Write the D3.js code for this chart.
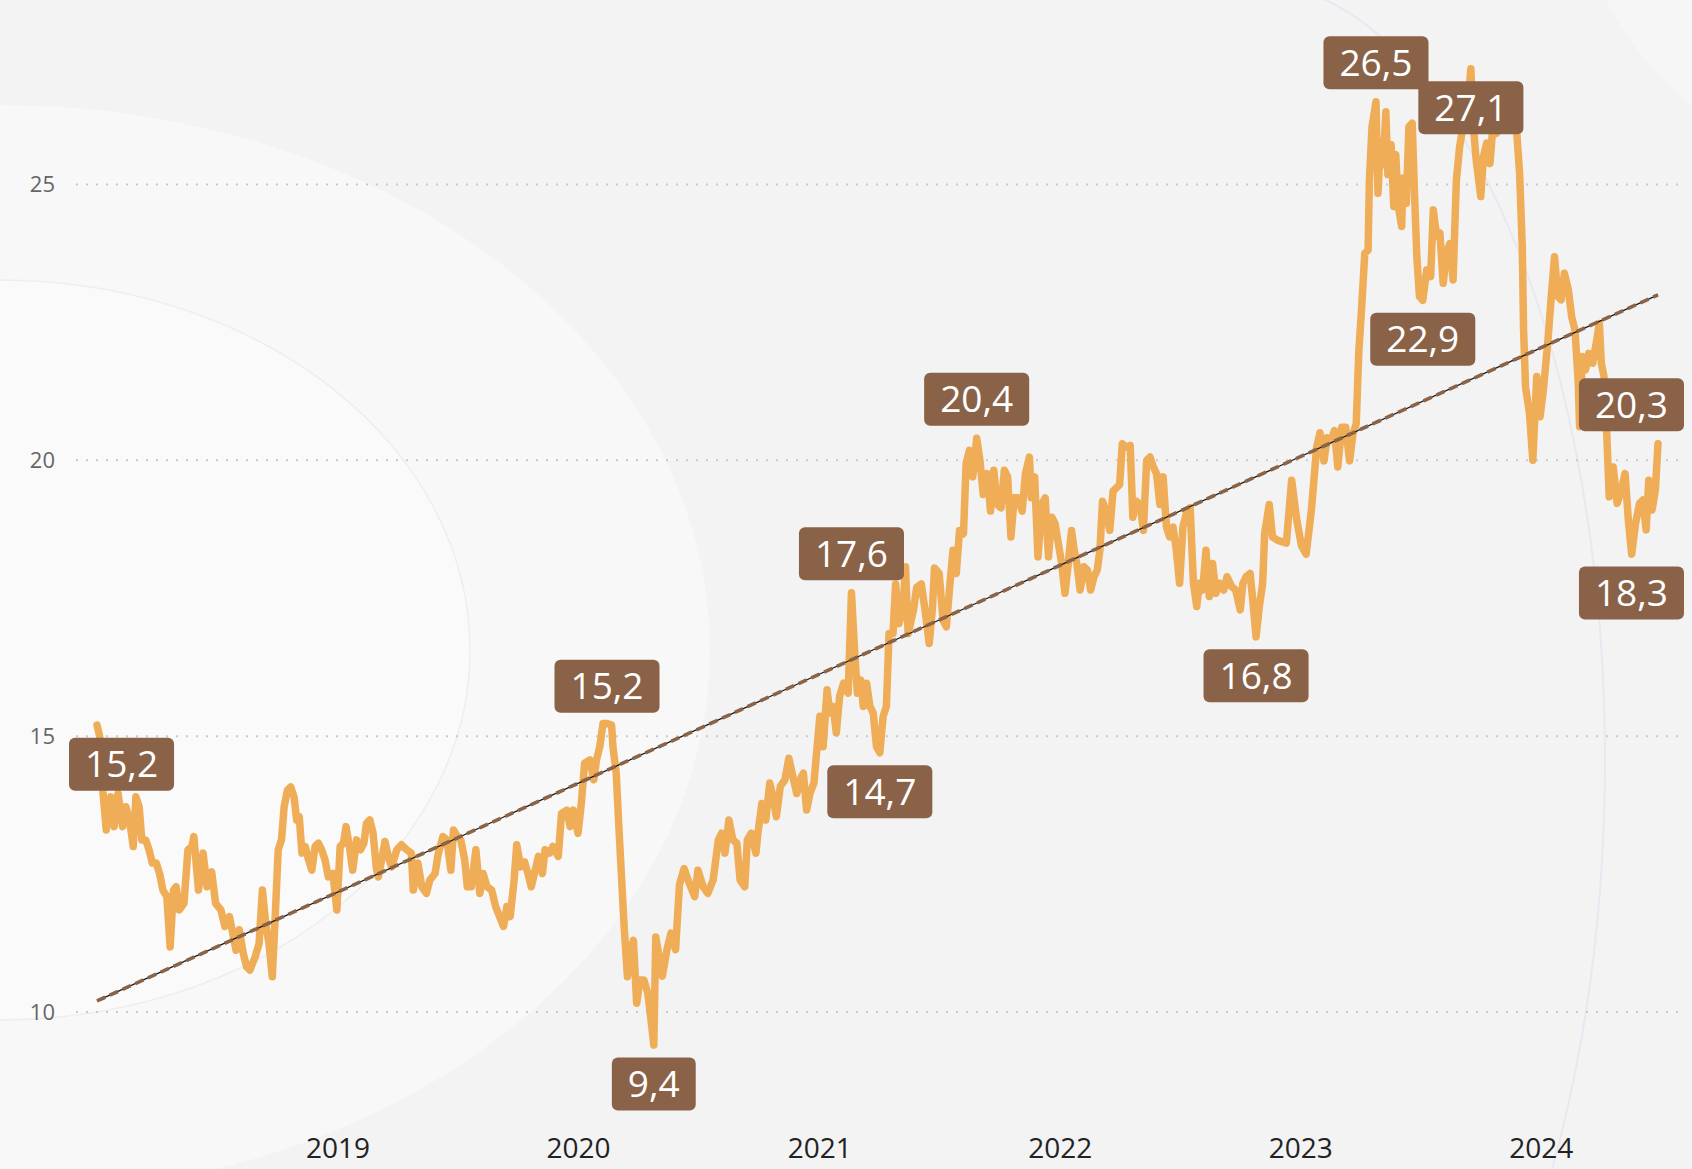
<!DOCTYPE html>
<html><head><meta charset="utf-8">
<script src="https://cdn.jsdelivr.net/npm/d3@7"></script>
<style>html,body{margin:0;padding:0;background:#f4f4f4;} svg{display:block;}</style>
</head><body><svg id="chart" width="1692" height="1169"></svg>
<script>
// ---------- DATA ----------
const series2018 = [["2018-01-01",15.2],["2018-01-05",15.0],["2018-01-10",14.0],["2018-01-15",13.3],["2018-01-22",13.9],["2018-01-27",13.36],["2018-02-02",13.96],["2018-02-09",13.36],["2018-02-14",13.72],["2018-02-20",13.42],["2018-02-25",13.0],["2018-03-01",13.9],["2018-03-06",13.72],["2018-03-10",13.12],["2018-03-16",13.12],["2018-03-21",12.94],["2018-03-26",12.7],["2018-04-01",12.7],["2018-04-06",12.51],["2018-04-11",12.21],["2018-04-17",12.09],["2018-04-22",11.18],["2018-04-27",12.21],["2018-05-01",12.27],["2018-05-06",11.85],["2018-05-13",11.97],["2018-05-19",12.94],["2018-05-25",13.0],["2018-05-28",13.18],["2018-06-04",12.21],["2018-06-11",12.88],["2018-06-17",12.27],["2018-06-24",12.54],["2018-06-30",11.97],["2018-07-08",11.85],["2018-07-14",11.55],["2018-07-21",11.73],["2018-07-26",11.43],["2018-07-31",11.12],["2018-08-05",11.49],["2018-08-11",11.06],["2018-08-16",10.82],["2018-08-21",10.76],["2018-08-29",11.0],["2018-09-04",11.24],["2018-09-09",12.21],["2018-09-14",11.61],["2018-09-19",11.24],["2018-09-24",10.64],["2018-09-28",11.61],["2018-10-03",12.94],["2018-10-08",13.12],["2018-10-12",13.72],["2018-10-17",14.02],["2018-10-22",14.08],["2018-10-27",13.9],["2018-10-31",13.48],["2018-11-04",13.54],["2018-11-08",12.88],["2018-11-13",13.0],["2018-11-18",12.76],["2018-11-23",12.57],["2018-11-28",13.0],["2018-12-03",13.06],["2018-12-08",12.94],["2018-12-13",12.76],["2018-12-18",12.45],["2018-12-25",12.51],["2018-12-31",11.85]];
const series2019 = [["2019-01-05",13.0],["2019-01-10",13.06],["2019-01-14",13.36],["2019-01-19",13.0],["2019-01-24",12.57],["2019-01-30",13.12],["2019-02-05",12.94],["2019-02-10",13.06],["2019-02-14",13.42],["2019-02-19",13.48],["2019-02-24",13.24],["2019-03-01",12.6],["2019-03-04",12.45],["2019-03-09",12.76],["2019-03-14",13.09],["2019-03-19",12.82],["2019-03-24",12.63],["2019-04-01",12.94],["2019-04-08",13.03],["2019-04-16",12.94],["2019-04-23",12.88],["2019-04-26",12.21],["2019-05-03",12.7],["2019-05-09",12.27],["2019-05-16",12.15],["2019-05-21",12.39],["2019-05-29",12.51],["2019-06-03",12.88],["2019-06-10",13.18],["2019-06-16",13.12],["2019-06-22",12.57],["2019-06-26",13.3],["2019-07-02",13.18],["2019-07-07",13.12],["2019-07-13",12.76],["2019-07-17",12.27],["2019-07-23",12.27],["2019-07-30",12.94],["2019-08-05",12.15],["2019-08-10",12.51],["2019-08-16",12.27],["2019-08-23",12.21],["2019-08-29",11.91],["2019-09-04",11.73],["2019-09-10",11.55],["2019-09-15",11.91],["2019-09-20",11.73],["2019-09-26",12.39],["2019-09-30",13.03],["2019-10-06",12.63],["2019-10-12",12.72],["2019-10-17",12.51],["2019-10-22",12.27],["2019-10-28",12.57],["2019-11-02",12.82],["2019-11-08",12.51],["2019-11-12",12.94],["2019-11-19",12.88],["2019-11-24",13.0],["2019-12-02",12.82],["2019-12-07",13.6],["2019-12-15",13.66],["2019-12-20",13.36],["2019-12-25",13.66]];
const series2020 = [["2020-01-01",13.24],["2020-01-06",13.78],["2020-01-11",14.51],["2020-01-19",14.57],["2020-01-25",14.21],["2020-01-29",14.57],["2020-02-03",14.81],["2020-02-08",15.23],["2020-02-14",15.23],["2020-02-21",15.2],["2020-02-23",14.81],["2020-02-28",14.33],["2020-03-03",13.36],["2020-03-07",12.45],["2020-03-11",11.55],["2020-03-16",10.64],["2020-03-20",11.06],["2020-03-25",11.3],["2020-03-30",10.16],["2020-04-04",10.58],["2020-04-10",10.58],["2020-04-16",10.34],["2020-04-22",9.73],["2020-04-25",9.4],["2020-04-28",11.36],["2020-05-08",10.65],["2020-05-15",11.13],["2020-05-21",11.43],["2020-05-28",11.13],["2020-06-03",12.31],["2020-06-10",12.6],["2020-06-16",12.39],["2020-06-26",12.09],["2020-07-01",12.57],["2020-07-09",12.27],["2020-07-16",12.15],["2020-07-24",12.39],["2020-08-01",13.12],["2020-08-06",13.24],["2020-08-11",12.88],["2020-08-17",13.48],["2020-08-23",13.12],["2020-08-29",13.06],["2020-09-03",12.39],["2020-09-10",12.27],["2020-09-14",13.12],["2020-09-20",13.24],["2020-09-27",12.88],["2020-09-30",13.24],["2020-10-06",13.78],["2020-10-12",13.48],["2020-10-18",14.15],["2020-10-23",13.9],["2020-10-28",13.54],["2020-11-03",14.09],["2020-11-10",14.21],["2020-11-16",14.6],["2020-11-22",14.27],["2020-11-28",13.96],["2020-12-03",14.21],["2020-12-08",14.33],["2020-12-13",13.66],["2020-12-18",13.96],["2020-12-24",14.15],["2020-12-28",14.69]];
const series2021 = [["2021-01-02",15.36],["2021-01-07",14.81],["2021-01-13",15.84],["2021-01-17",15.42],["2021-01-22",15.54],["2021-01-27",15.06],["2021-02-01",15.72],["2021-02-07",15.96],["2021-02-14",15.78],["2021-02-19",17.6],["2021-02-24",16.5],["2021-02-28",15.78],["2021-03-05",16.02],["2021-03-09",15.54],["2021-03-14",15.96],["2021-03-19",15.54],["2021-03-24",15.42],["2021-03-29",14.81],["2021-04-03",14.7],["2021-04-08",15.36],["2021-04-13",15.54],["2021-04-17",16.86],["2021-04-23",16.86],["2021-04-27",17.76],["2021-05-02",17.04],["2021-05-08",17.28],["2021-05-12",18.07],["2021-05-16",16.86],["2021-05-24",17.28],["2021-05-29",17.7],["2021-06-05",17.76],["2021-06-10",17.34],["2021-06-17",16.68],["2021-06-22",17.34],["2021-06-25",18.05],["2021-07-02",17.95],["2021-07-08",17.1],["2021-07-13",16.98],["2021-07-18",17.7],["2021-07-23",18.37],["2021-07-28",17.95],["2021-08-02",18.73],["2021-08-08",18.67],["2021-08-12",19.94],["2021-08-17",20.18],["2021-08-22",19.7],["2021-08-28",20.4],["2021-09-02",20.0],["2021-09-07",19.38],["2021-09-13",19.76],["2021-09-18",19.08],["2021-09-23",19.82],["2021-09-28",19.2],["2021-10-04",19.14],["2021-10-09",19.82],["2021-10-14",19.7],["2021-10-19",18.61],["2021-10-24",19.32],["2021-10-30",19.32],["2021-11-05",19.08],["2021-11-10",19.76],["2021-11-16",20.06],["2021-11-19",19.32],["2021-11-24",19.7],["2021-11-29",18.25],["2021-12-05",19.2],["2021-12-10",19.32],["2021-12-15",18.25],["2021-12-20",18.97],["2021-12-25",18.85],["2021-12-30",18.49]];
const series2022 = [["2022-01-04",18.13],["2022-01-09",17.59],["2022-01-14",18.13],["2022-01-19",18.73],["2022-01-23",18.37],["2022-01-27",18.13],["2022-02-01",17.65],["2022-02-07",18.07],["2022-02-12",18.01],["2022-02-17",17.65],["2022-02-22",17.89],["2022-02-27",18.01],["2022-03-03",18.37],["2022-03-07",19.26],["2022-03-12",19.08],["2022-03-18",18.73],["2022-03-23",19.44],["2022-03-28",19.5],["2022-04-02",19.56],["2022-04-06",20.3],["2022-04-12",20.24],["2022-04-18",20.27],["2022-04-22",18.97],["2022-04-27",19.26],["2022-05-03",19.2],["2022-05-08",18.73],["2022-05-13",20.0],["2022-05-18",20.06],["2022-05-23",19.88],["2022-05-28",19.76],["2022-06-02",19.2],["2022-06-07",19.7],["2022-06-12",18.79],["2022-06-17",18.61],["2022-06-22",18.79],["2022-06-27",18.37],["2022-07-02",17.77],["2022-07-07",18.79],["2022-07-13",19.08],["2022-07-18",19.14],["2022-07-23",17.77],["2022-07-28",17.35],["2022-08-01",17.77],["2022-08-06",17.65],["2022-08-11",18.37],["2022-08-16",17.53],["2022-08-21",18.13],["2022-08-26",17.59],["2022-09-01",17.77],["2022-09-07",17.65],["2022-09-12",17.89],["2022-09-19",17.71],["2022-09-25",17.65],["2022-10-02",17.29],["2022-10-06",17.77],["2022-10-11",17.89],["2022-10-17",17.95],["2022-10-21",17.47],["2022-10-26",16.8],["2022-10-31",17.35],["2022-11-05",17.77],["2022-11-08",18.67],["2022-11-15",19.2],["2022-11-20",18.61],["2022-11-28",18.55],["2022-12-11",18.5],["2022-12-19",19.64],["2022-12-27",18.9]];
const series2023 = [["2023-01-03",18.45],["2023-01-10",18.3],["2023-01-18",19.1],["2023-01-26",20.24],["2023-01-31",20.5],["2023-02-06",19.99],["2023-02-11",20.41],["2023-02-17",20.36],["2023-02-22",20.54],["2023-02-27",19.88],["2023-03-05",20.6],["2023-03-11",20.6],["2023-03-17",19.99],["2023-03-22",20.48],["2023-03-27",20.66],["2023-03-31",21.99],["2023-04-04",22.72],["2023-04-09",23.75],["2023-04-14",23.81],["2023-04-16",25.08],["2023-04-20",26.05],["2023-04-26",26.5],["2023-04-29",24.84],["2023-05-03",25.78],["2023-05-07",25.36],["2023-05-11",26.32],["2023-05-14",25.18],["2023-05-19",25.72],["2023-05-23",24.6],["2023-05-26",25.54],["2023-05-30",24.6],["2023-06-04",24.24],["2023-06-06",25.12],["2023-06-11",24.66],["2023-06-15",26.05],["2023-06-20",26.11],["2023-06-24",24.66],["2023-06-27",23.69],["2023-07-01",22.97],["2023-07-06",22.9],["2023-07-12",23.45],["2023-07-18",23.33],["2023-07-22",24.54],["2023-07-27",24.06],["2023-08-01",24.12],["2023-08-06",23.21],["2023-08-11",23.75],["2023-08-16",23.93],["2023-08-21",23.27],["2023-08-26",25.08],["2023-08-31",25.69],["2023-09-05",26.05],["2023-09-11",26.23],["2023-09-17",27.1],["2023-09-20",26.17],["2023-09-25",25.45],["2023-10-02",24.78],["2023-10-06",25.5],["2023-10-11",25.75],["2023-10-16",25.38],["2023-10-20",25.99],["2023-10-26",25.93],["2023-10-31",26.05],["2023-11-05",25.99],["2023-11-10",25.99],["2023-11-15",25.99],["2023-11-20",26.17],["2023-11-25",26.05],["2023-11-30",25.2],["2023-12-04",23.87],["2023-12-06",22.36],["2023-12-09",21.33],["2023-12-15",20.85],["2023-12-20",20.0],["2023-12-26",21.52],["2023-12-31",20.79]];
const series2024 = [["2024-01-05",21.27],["2024-01-12",22.18],["2024-01-17",22.97],["2024-01-22",23.69],["2024-01-27",22.97],["2024-02-01",22.91],["2024-02-06",23.39],["2024-02-12",23.09],["2024-02-17",22.6],["2024-02-22",22.36],["2024-02-27",21.4],["2024-02-29",20.61],["2024-03-04",21.88],["2024-03-09",21.64],["2024-03-14",21.94],["2024-03-20",21.76],["2024-03-26",22.18],["2024-03-30",22.48],["2024-04-02",21.76],["2024-04-06",21.52],["2024-04-10",20.55],["2024-04-14",19.34],["2024-04-20",19.88],["2024-04-26",19.22],["2024-05-01",19.4],["2024-05-08",19.76],["2024-05-13",18.92],["2024-05-18",18.3],["2024-05-24",18.86],["2024-05-30",19.22],["2024-06-04",19.28],["2024-06-09",18.74],["2024-06-13",19.64],["2024-06-18",19.1],["2024-06-23",19.46],["2024-06-27",20.3]];

// annotated points
const labelDates  = ["2018-01-01","2020-02-14","2020-04-25","2021-02-19","2021-04-03","2021-08-28","2022-10-26","2023-04-26","2023-07-06","2023-09-17","2024-05-18","2024-06-27"];
const labelValues = [15.2, 15.2, 9.4, 17.6, 14.7, 20.4, 16.8, 26.5, 22.9, 27.1, 18.3, 20.3];
const labelSides  = ["below","above","below","above","below","above","below","above","below","below","below","above"];

// linear trend (start / end value)
const trendValues = [10.2, 23.0];

// axis ticks
const yTicks = [10, 15, 20, 25];
const xTickYears = [2019, 2020, 2021, 2022, 2023, 2024];

// ---------- DRAWING ----------
const W = 1692, H = 1169;
const FONT = "'Segoe UI','Open Sans','Noto Sans',sans-serif";
const svg = d3.select("#chart");

// background
const defs = svg.append("defs");
defs.append("clipPath").attr("id", "rightHalf").append("rect")
  .attr("x", 1250).attr("y", 0).attr("width", 500).attr("height", H);
const bg = svg.append("g");
bg.append("rect").attr("width", W).attr("height", H).attr("fill", "#f3f3f4");
bg.append("circle").attr("cx", 1900).attr("cy", -150).attr("r", 330).attr("fill", "#f6f6f7");
bg.append("ellipse").attr("cx", 0).attr("cy", 650).attr("rx", 710).attr("ry", 545).attr("fill", "#f8f8f9");
bg.append("ellipse").attr("cx", 0).attr("cy", 650).attr("rx", 470).attr("ry", 370).attr("fill", "#fafafa").attr("stroke", "#eeeeef").attr("stroke-width", 1.5);
bg.append("ellipse").attr("cx", 1250).attr("cy", 760).attr("rx", 355).attr("ry", 778)
  .attr("fill", "none").attr("stroke", "#e8e8f1").attr("stroke-width", 2).attr("clip-path", "url(#rightHalf)");

const parse = d3.utcParse("%Y-%m-%d");
const series = [].concat(series2018, series2019, series2020, series2021, series2022, series2023, series2024)
  .map(([d, v]) => ({ date: parse(d), value: v }));

const x = d3.scaleUtc().domain(d3.extent(series, d => d.date)).range([97, 1658]);
const y = d3.scaleLinear().domain([10, 25]).range([1012, 184.5]);

// gridlines
svg.append("g").selectAll("line").data(yTicks).join("line")
  .attr("x1", 76).attr("x2", 1682)
  .attr("y1", d => y(d)).attr("y2", d => y(d))
  .attr("stroke", "#c9c9c9").attr("stroke-width", 2).attr("stroke-dasharray", "2 8");

// y axis
const yAxis = svg.append("g").attr("transform", "translate(76,0)")
  .call(d3.axisLeft(y).tickValues(yTicks).tickSize(0).tickPadding(21).tickFormat(d3.format("d")));
yAxis.select(".domain").remove();
yAxis.selectAll("text").attr("font-family", FONT).attr("font-size", 22).attr("fill", "#666");

// x axis
const xAxis = svg.append("g").attr("transform", "translate(0,1130)")
  .call(d3.axisBottom(x).tickValues(xTickYears.map(yr => new Date(Date.UTC(yr, 0, 1))))
    .tickSize(0).tickPadding(8).tickFormat(d3.utcFormat("%Y")));
xAxis.select(".domain").remove();
xAxis.selectAll("text").attr("font-family", FONT).attr("font-size", 28).attr("fill", "#222");

// series line
svg.append("path").datum(series)
  .attr("fill", "none").attr("stroke", "#efad58").attr("stroke-width", 7.5)
  .attr("stroke-linejoin", "round").attr("stroke-linecap", "round")
  .attr("d", d3.line().x(d => x(d.date)).y(d => y(d.value)));

// trend line
const ext = x.domain();
const trend = [{ date: ext[0], value: trendValues[0] }, { date: ext[1], value: trendValues[1] }];
const tline = d3.line().x(d => x(d.date)).y(d => y(d.value));
svg.append("path").datum(trend).attr("d", tline).attr("fill", "none")
  .attr("stroke", "#1a1a1a").attr("stroke-width", 1.3);
svg.append("path").datum(trend).attr("d", tline).attr("fill", "none")
  .attr("stroke", "#8b6448").attr("stroke-width", 3.6).attr("stroke-dasharray", "9 5");

// labels
const locale = d3.formatLocale({ decimal: ",", thousands: ".", grouping: [3], currency: ["", ""] });
const fmt = locale.format(".1f");
const BOX_H = 53, PAD = 16, OFF = 39, MINX = 69, MAXX = 1684;
const labels = labelDates.map((d, i) => ({ date: parse(d), value: labelValues[i], side: labelSides[i] }));
const lg = svg.append("g");
labels.forEach(l => {
  const g = lg.append("g");
  const t = g.append("text").text(fmt(l.value))
    .attr("font-family", FONT).attr("font-size", 37).attr("fill", "#ffffff")
    .attr("text-anchor", "middle").attr("dy", "0.35em");
  const tw = t.node().getComputedTextLength();
  const bw = tw + 2 * PAD;
  let cx = x(l.date);
  cx = Math.max(MINX + bw / 2, Math.min(MAXX - bw / 2, cx));
  const cy = y(l.value) + (l.side === "above" ? -OFF : OFF);
  g.insert("rect", "text").attr("x", cx - bw / 2).attr("y", cy - BOX_H / 2)
    .attr("width", bw).attr("height", BOX_H).attr("rx", 6).attr("fill", "#8a6248");
  t.attr("x", cx).attr("y", cy);
});
</script>
</body></html>
